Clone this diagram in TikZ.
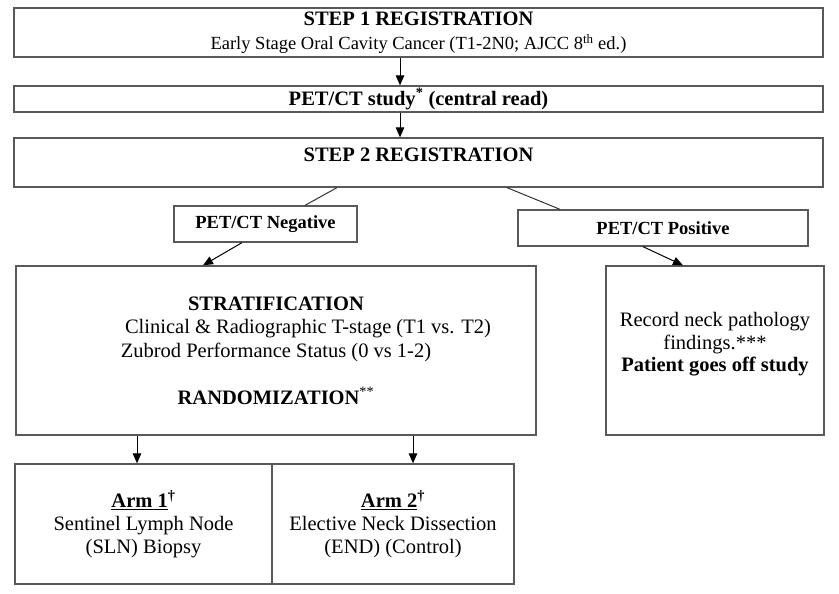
\documentclass[tikz,border=0pt]{standalone}
\usepackage{fontspec}
\setmainfont{Liberation Serif}
\usetikzlibrary{arrows.meta,calc}
\begin{document}
\begin{tikzpicture}[x=1pt,y=-1pt,
  box/.style={draw=black!65, line width=1.3pt, rectangle, inner sep=0pt, align=center},
  arr/.style={draw=black, line width=1pt, -{Triangle[length=10pt,width=8.5pt]}},
  conn/.style={draw=black!80, line width=1pt},
  big/.style={font=\fontsize{20.5}{23.5}\selectfont},
  mid/.style={font=\fontsize{18.5}{21}\selectfont\bfseries}]
\useasboundingbox[fill=white] (0,0) rectangle (839,594);

\node[box, minimum width=809pt, minimum height=49pt, font=\fontsize{18.5}{22}\selectfont] (s1) at (418.5,32.5)
  {{\fontsize{20.5}{22}\selectfont\bfseries STEP 1 REGISTRATION}\\[2.5pt]
   Early Stage Oral Cavity Cancer (T1-2N0; AJCC 8\textsuperscript{th} ed.)};

\node[box, big, minimum width=809pt, minimum height=26pt] (pet) at (418.5,99)
  {\bfseries PET/CT study\textsuperscript{*} (central read)};

\node[box, big, minimum width=809pt, text height=23.5pt, text depth=25.5pt] (s2) at (418.5,162.5)
  {\bfseries STEP 2 REGISTRATION};

\node[box, mid, minimum width=183pt, minimum height=36pt] (neg) at (265.5,224) {PET/CT Negative};
\node[box, mid, minimum width=290pt, minimum height=36pt] (pos) at (663,228) {PET/CT Positive};

\node[box, big, minimum width=520pt, minimum height=169pt] (strat) at (276,350.5)
  {\textbf{STRATIFICATION}\\
   \hspace*{64pt}Clinical \& Radiographic T-stage (T1 vs. T2)\\
   Zubrod Performance Status (0 vs 1-2)\\[23.5pt]
   \textbf{RANDOMIZATION}\textsuperscript{**}};

\node[box, big, font=\fontsize{20.5}{22.5}\selectfont, minimum width=218pt, minimum height=169pt] (rec) at (715,350.5)
  {Record neck pathology\\
   findings.***\\
   \textbf{Patient goes off study}\\[-6pt]\mbox{}};

\node[box, font=\fontsize{20.5}{23}\selectfont, minimum width=257pt, minimum height=120pt] (arm1) at (143.5,524)
  {\underline{\textbf{Arm 1}}\textsuperscript{\textbf{\textdagger}}\\
   Sentinel Lymph Node\\
   (SLN) Biopsy};
\node[box, font=\fontsize{20.5}{23}\selectfont, minimum width=242pt, minimum height=120pt] (arm2) at (393,524)
  {\underline{\textbf{Arm 2}}\textsuperscript{\textbf{\textdagger}}\\
   Elective Neck Dissection\\
   (END) (Control)};

% connectors
\draw[arr] ([xshift=-18.5pt]s1.south) -- ([xshift=-18.5pt]pet.north);
\draw[arr] ([xshift=-18.5pt]pet.south) -- ([xshift=-18.5pt]s2.north);
\draw[conn] ([xshift=-81.5pt]s2.south) -- ([xshift=39.5pt]neg.north);
\draw[conn] ([xshift=88.5pt]s2.south) -- ([xshift=-103pt]pos.north);
\draw[arr] ([xshift=-23.5pt]neg.south) -- ([xshift=-73pt]strat.north);
\draw[arr] ([xshift=-20pt]pos.south) -- ([xshift=-32pt]rec.north);
\draw[arr] ([xshift=-6.5pt]arm1.north |- strat.south) -- ([xshift=-6.5pt]arm1.north);
\draw[arr] ([xshift=20pt]arm2.north |- strat.south) -- ([xshift=20pt]arm2.north);
\end{tikzpicture}
\end{document}
